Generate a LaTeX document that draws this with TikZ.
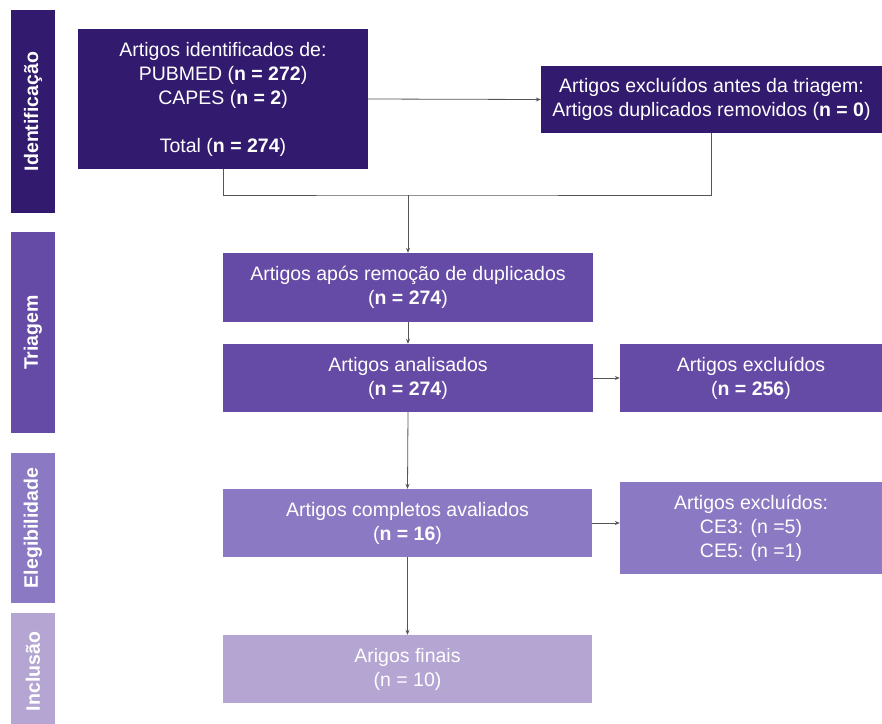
\documentclass[tikz,border=0pt]{standalone}
\usepackage{fontspec}
\setmainfont{Liberation Sans}
\usetikzlibrary{arrows.meta}
\definecolor{cA}{HTML}{321A6E}
\definecolor{cB}{HTML}{654AA6}
\definecolor{cC}{HTML}{8C79C3}
\definecolor{cD}{HTML}{B4A5D3}
\definecolor{ln}{HTML}{555555}
\tikzset{
  box/.style={rectangle, inner sep=0pt, text=white, align=center,
    font=\fontsize{19.5}{24}\selectfont},
  side/.style={rectangle, inner sep=0pt, text=white, rotate=90,
    font=\fontsize{19.5}{22}\selectfont\bfseries},
  conn/.style={draw=ln, line width=0.8pt},
  arr/.style={conn, -{Stealth[length=5pt,width=4pt]}}
}
\begin{document}
\begin{tikzpicture}[x=1pt,y=-1pt]
\useasboundingbox (0,0) rectangle (882,723);
% side labels
\node[side, fill=cA, minimum width=203pt, minimum height=44pt] (s1) at (33,111.5) {Identificação};
\node[side, fill=cB, minimum width=201pt, minimum height=44pt] (s2) at (33,332.5) {Triagem};
\node[side, fill=cC, minimum width=150pt, minimum height=44pt] (s3) at (33,528) {Elegibilidade};
\node[side, fill=cD, minimum width=117pt, minimum height=44pt] (s4) at (33,671.5) {Inclusão};
% boxes
\node[box, fill=cA, minimum width=290pt, minimum height=140pt] (b1) at (223,99)
  {Artigos identificados de:\\PUBMED (\textbf{n = 272})\\CAPES (\textbf{n = 2})\\[24pt]Total (\textbf{n = 274})};
\node[box, fill=cA, minimum width=341pt, minimum height=67pt] (b2) at (711.5,99.5)
  {Artigos excluídos antes da triagem:\\Artigos duplicados removidos (\textbf{n = 0})};
\node[box, fill=cB, minimum width=370pt, minimum height=69pt] (b3) at (408,287.5)
  {Artigos após remoção de duplicados\\(\textbf{n = 274})};
\node[box, fill=cB, minimum width=370pt, minimum height=68pt] (b4) at (408,378)
  {Artigos analisados\\(\textbf{n = 274})};
\node[box, fill=cB, minimum width=262pt, minimum height=68pt] (b5) at (751,378)
  {Artigos excluídos\\(\textbf{n = 256})};
\node[box, fill=cC, minimum width=369pt, minimum height=68pt] (b6) at (407.5,523)
  {Artigos completos avaliados\\(\textbf{n = 16})};
\node[box, fill=cC, minimum width=262pt, minimum height=92pt] (b7) at (751,528)
  {Artigos excluídos:\\CE3: (n =5)\\CE5: (n =1)};
\node[box, fill=cD, minimum width=369pt, minimum height=68pt] (b8) at (407.5,669)
  {Arigos finais\\(n = 10)};
% connectors
\coordinate (m) at (408,195);
\draw[arr] (b1.east) -- (b2.west);
\draw[conn] (b1.south) |- (m) -| (b2.south);
\draw[arr] (m) -- (b3.north);
\draw[arr] (b3.south) -- (b4.north);
\draw[arr] (b4.east) -- (b5.west);
\draw[arr] (b4.south) -- (b6.north);
\draw[arr] (b6.east) -- (b6.east -| b7.west);
\draw[arr] (b6.south) -- (b8.north);
\end{tikzpicture}
\end{document}
